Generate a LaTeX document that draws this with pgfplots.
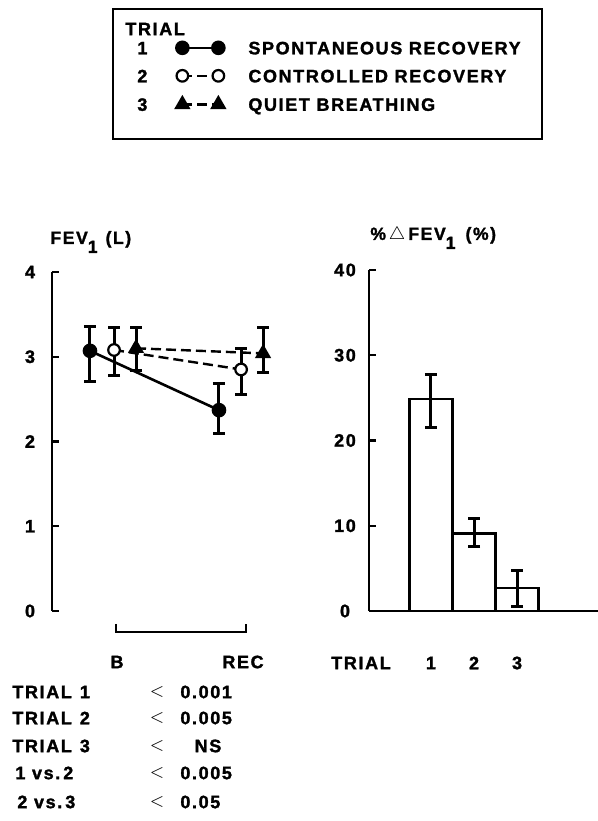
\documentclass[border=0pt]{standalone}
\usepackage{fontspec}
\setmainfont{Liberation Sans}[LetterSpace=9, BoldFeatures={FakeBold=1.6}]
\usepackage{pgfplots}
\pgfplotsset{compat=1.18}

\pgfplotsset{
  errs/.style={error bars/y dir=both, error bars/y explicit},
  errlook/.style={
    error bars/error bar style={line width=1.5pt, solid},
    error bars/error mark options={rotate=90, mark size=3pt, line width=1.5pt, solid}},
  numimg/.style={legend image code/.code={
    \node[inner sep=0pt, anchor=center, font=\bfseries\fontsize{9}{11}\selectfont] at (-20pt,0pt) {#1};
    \draw[##1] plot coordinates {(0pt,0pt) (18pt,0pt)};}},
}

\begin{document}
\begin{tikzpicture}[font=\bfseries\fontsize{9}{11}\selectfont]
\path[use as bounding box] (0,0) rectangle (299pt,410.5pt);

% legend frame and header
\draw[line width=1.2pt] (56.5pt,341pt) rectangle (271pt,406pt);
\node[anchor=west, inner sep=0pt] at (62.5pt,396pt) {TRIAL};

% left panel: FEV1 at baseline and recovery
\begin{axis}[
  at={(26pt,105pt)}, anchor=south west,
  scale only axis, width=119pt, height=169.5pt,
  xmin=0.508, xmax=2.338, ymin=0, ymax=4,
  hide x axis, axis y line*=left,
  ytick={0,1,2,3,4},
  tick align=inside, major tick length=3.5pt,
  tick style={line width=1.2pt, black},
  axis line style={line width=1.2pt},
  errlook,
  /pgf/number format/assume math mode=true,
  yticklabel style={anchor=center, xshift=-11pt, font=\bfseries\fontsize{9}{10}\selectfont},
  clip=false,
  legend cell align=left,
  legend style={draw=none, fill=none, inner sep=0pt, row sep=7.5pt, column sep=12pt,
    at={(0.357,1.578)}, anchor=west,
    nodes={inner sep=0pt, text height=6.5pt, text depth=0pt, font=\bfseries\fontsize{9}{11}\selectfont}},
]
\addplot[black, line width=1.3pt, mark=*, mark size=3pt, numimg=1, errs]
  table[x=x, y=y, y error plus=ep, y error minus=em] {
  x     y     ep    em
  0.800 3.07  0.29  0.36
  1.792 2.37  0.32  0.27
};
\addlegendentry{SPONTANEOUS RECOVERY}
\addplot[black, line width=1.2pt, dash pattern=on 5pt off 2.5pt, mark=*, mark size=2.9pt,
  mark options={solid, fill=white, line width=1.1pt}, numimg=2, errs]
  table[x=x, y=y, y error plus=ep, y error minus=em] {
  x     y     ep    em
  0.985 3.08  0.27  0.30
  1.962 2.85  0.25  0.29
};
\addlegendentry{CONTROLLED RECOVERY}
\addplot[black, line width=1.2pt, dash pattern=on 5pt off 2.5pt, mark=triangle*, mark size=3.5pt,
  mark options={solid}, numimg=3, errs]
  table[x=x, y=y, y error plus=ep, y error minus=em] {
  x     y     ep    em
  1.154 3.10  0.25  0.26
  2.131 3.04  0.30  0.23
};
\addlegendentry{QUIET BREATHING}
\draw[line width=1.2pt] (axis cs:1,-0.153) -- (axis cs:1,-0.248) -- (axis cs:2,-0.248) -- (axis cs:2,-0.153);
\end{axis}

% right panel: percent change in FEV1
\begin{axis}[
  at={(184.5pt,105pt)}, anchor=south west,
  scale only axis, width=114.5pt, height=170.5pt,
  xmin=-0.44, xmax=4.88, ymin=0, ymax=40,
  axis x line*=bottom, axis y line*=left,
  ytick={0,10,20,30,40}, xtick={1,2,3},
  tick align=inside, major tick length=3.5pt,
  tick style={line width=1.2pt, black},
  xtick style={draw=none},
  axis line style={line width=1.2pt},
  errlook,
  /pgf/number format/assume math mode=true,
  yticklabel style={anchor=center, xshift=-12pt, font=\bfseries\fontsize{9}{10}\selectfont},
  xticklabel style={anchor=center, yshift=-26pt, font=\bfseries\fontsize{9}{10}\selectfont},
  clip=false,
]
\addplot[ybar, bar width=1, fill=white, draw=black, line width=1.2pt, errs]
  table[x=x, y=y, y error plus=ep, y error minus=em] {
  x  y     ep   em
  1  24.9  2.9  3.4
  2  9.1   1.8  1.5
  3  2.7   2.0  2.2
};
\end{axis}

% axis titles
\node[anchor=west, inner sep=0pt, font=\bfseries\fontsize{8.8}{10}\selectfont] at (25pt,289.5pt)
  {FEV\raisebox{-4.5pt}{1}\hspace{4pt}(L)};
\node[anchor=west, inner sep=0pt, font=\bfseries\fontsize{8.8}{10}\selectfont] at (185pt,291.5pt)
  {\%\,$\triangle$\,FEV\raisebox{-4.5pt}{1}\hspace{5pt}(\%)};

% category labels
\node[inner sep=0pt] at (58.5pt,79.5pt) {B};
\node[inner sep=0pt] at (121.5pt,79.5pt) {REC};
\node[inner sep=0pt] at (180.5pt,79pt) {TRIAL};

% significance table
\node[anchor=west, inner sep=0pt] at (6pt,64.5pt) {TRIAL\hspace{4pt}1};
\node[anchor=west, inner sep=0pt] at (6pt,51.5pt) {TRIAL\hspace{4pt}2};
\node[anchor=west, inner sep=0pt] at (6pt,37.5pt) {TRIAL\hspace{4pt}3};
\node[anchor=west, inner sep=0pt] at (7.5pt,24pt) {1 vs.\,2};
\node[anchor=west, inner sep=0pt] at (8.5pt,9.5pt) {2 vs.\,3};
\foreach \yy in {64.5,51.5,37.5,24,9.5} {\node[inner sep=0pt] at (78.5pt,\yy pt) {$<$};}
\node[anchor=west, inner sep=0pt] at (90pt,64.5pt) {0.001};
\node[anchor=west, inner sep=0pt] at (90pt,51.5pt) {0.005};
\node[inner sep=0pt] at (104pt,37.5pt) {NS};
\node[anchor=west, inner sep=0pt] at (90pt,24pt) {0.005};
\node[anchor=west, inner sep=0pt] at (90pt,9.5pt) {0.05};
\end{tikzpicture}
\end{document}
